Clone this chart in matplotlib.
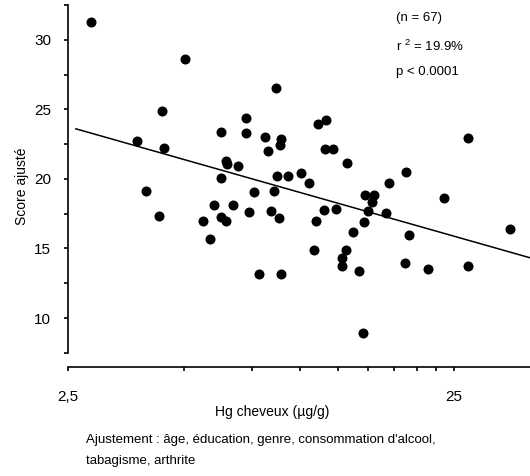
import matplotlib
matplotlib.use('Agg')
import matplotlib.pyplot as plt
from matplotlib.ticker import FixedLocator, NullFormatter

plt.rcParams['font.family'] = ['Liberation Sans', 'DejaVu Sans']

# Hg cheveux (ug/g), log scale
hg = [2.87, 5.01, 4.38, 3.78, 4.43, 3.98, 4.31, 6.22, 6.42, 6.47,
      6.89, 6.22, 7.22, 7.22, 8.08, 8.91, 8.85, 8.24, 8.66, 11.13,
      11.63, 11.60, 12.15, 13.23, 8.67, 9.30, 10.06, 10.55, 7.60, 8.54,
      5.96, 6.69, 5.59, 6.22, 6.43, 5.83, 7.35, 7.79, 8.38, 8.79,
      11.49, 12.35, 11.00, 14.68, 15.47, 15.33, 14.95, 16.65, 16.97, 14.57,
      13.70, 10.81, 13.10, 12.80, 12.80, 14.17, 8.89, 14.55, 27.2, 18.76,
      23.49, 34.9, 19.12, 18.6, 21.4, 27.1]
# Score ajusté
score = [31.3, 28.6, 24.9, 22.7, 22.2, 19.1, 17.3, 23.4, 21.3, 21.05,
         20.9, 20.05, 24.4, 23.3, 23.0, 22.9, 22.45, 22.0, 26.5, 23.96,
         24.25, 22.15, 22.15, 21.16, 20.2, 20.2, 20.44, 19.67, 19.08, 19.15,
         18.1, 18.13, 16.96, 17.26, 16.97, 15.68, 17.64, 13.18, 17.66, 17.16,
         17.76, 17.86, 16.97, 18.83, 18.83, 18.37, 17.68, 17.58, 19.67, 16.9,
         16.18, 14.89, 14.87, 14.28, 13.76, 13.41, 13.13, 8.91, 22.96, 20.46,
         18.6, 16.42, 15.95, 13.92, 13.51, 13.77]

fit_x = [2.62, 39.3]
fit_y = [23.6, 14.33]

x_ticks = [2.5, 5, 7.5, 10, 12.5, 15, 17.5, 20, 22.5, 25]
x_labels = {2.5: '2,5', 25: '25'}
y_major = [10, 15, 20, 25, 30]
y_minor = [7.5, 12.5, 17.5, 22.5, 27.5, 32.5]

fig = plt.figure(figsize=(5.3, 4.76), dpi=100)
ax = fig.add_axes([68 / 530, 1 - 366.7 / 476, 462 / 530, 361.7 / 476])

ax.scatter(hg, score, s=52, color='black', zorder=3, linewidths=0)
ax.plot(fit_x, fit_y, color='black', linewidth=1.1, clip_on=False)

ax.set_xscale('log')
ax.set_xlim(2.5, 39.3)
ax.set_ylim(6.5, 32.5)

ax.xaxis.set_major_locator(FixedLocator(x_ticks))
ax.xaxis.set_minor_locator(FixedLocator([]))
ax.xaxis.set_minor_formatter(NullFormatter())
ax.set_xticklabels([x_labels.get(t, '') for t in x_ticks])
ax.yaxis.set_major_locator(FixedLocator(y_major))
ax.yaxis.set_minor_locator(FixedLocator(y_minor))

for s in ['top', 'right']:
    ax.spines[s].set_visible(False)
ax.spines['left'].set_bounds(7.5, 32.5)
ax.spines['left'].set_linewidth(1.2)
ax.spines['bottom'].set_linewidth(1.2)

ax.tick_params(axis='both', which='both', direction='out', length=3, width=1.2)
ax.tick_params(axis='y', labelsize=11, pad=9)
ax.tick_params(axis='x', labelsize=11, pad=14)

fig.text(22 / 530, 1 - 186 / 476, 'Score ajusté', rotation=90,
         ha='center', va='center', fontsize=10)
fig.text(272 / 530, 1 - 412 / 476, 'Hg cheveux (µg/g)', ha='center', va='center', fontsize=10)
fig.text(86 / 530, 1 - 440 / 476, "Ajustement : âge, éducation, genre, consommation d'alcool,",
         ha='left', va='center', fontsize=9.5)
fig.text(86 / 530, 1 - 461 / 476, 'tabagisme, arthrite', ha='left', va='center', fontsize=9.5)

fig.text(396 / 530, 1 - 18 / 476, '(n = 67)', ha='left', va='center', fontsize=9.5)
fig.text(396 / 530, 1 - 46 / 476, r'r $^{\mathregular{2}}$ = 19.9%', ha='left', va='center', fontsize=9.5)
fig.text(396 / 530, 1 - 72 / 476, 'p < 0.0001', ha='left', va='center', fontsize=9.5)

fig.savefig('out.png', dpi=100)
